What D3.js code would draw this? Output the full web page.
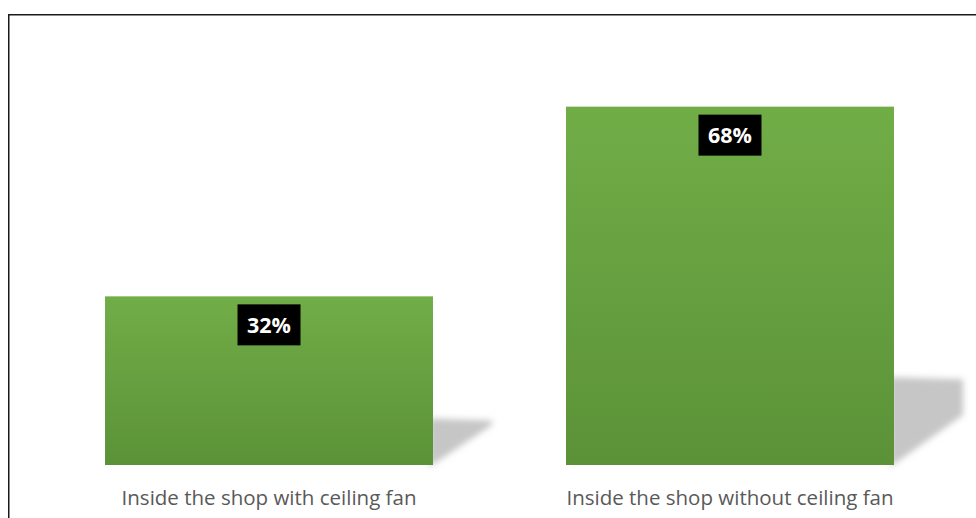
<!DOCTYPE html>
<html>
<head>
<meta charset="utf-8">
<script src="https://cdn.jsdelivr.net/npm/d3@7"></script>
<style>
  html, body { margin: 0; padding: 0; background: #fff; }
  svg { display: block; }
</style>
</head>
<body>
<svg id="chart" width="976" height="518"></svg>
<script>
(function(){
    'use strict';

    // Chart data
    const categories = ['Inside the shop with ceiling fan', 'Inside the shop without ceiling fan'];
    const values = [0.32, 0.68];
    const valueLabels = ['32%', '68%'];

    const baseline = 465;

    const svg = d3.select('#chart');

    const defs = svg.append('defs');
    const grad = defs.append('linearGradient')
        .attr('id', 'barGrad')
        .attr('x1', 0).attr('y1', 0).attr('x2', 0).attr('y2', 1);
    grad.append('stop').attr('offset', '0%').attr('stop-color', '#71ad47');
    grad.append('stop').attr('offset', '100%').attr('stop-color', '#5b9238');

    defs.append('filter').attr('id', 'blur')
        .attr('x', '-20%').attr('y', '-20%').attr('width', '140%').attr('height', '140%')
        .append('feGaussianBlur').attr('stdDeviation', 3);

    // frame
    svg.append('rect')
        .attr('x', 8.75).attr('y', 14.75)
        .attr('width', 1000).attr('height', 600)
        .attr('fill', 'none')
        .attr('stroke', '#1a1a1a')
        .attr('stroke-width', 1.5);

    const x = d3.scaleBand()
        .domain(d3.range(categories.length))
        .range([38.5, 960.5])
        .paddingInner(0.2885)
        .paddingOuter(0.1443);

    const y = d3.scaleLinear()
        .domain([0, 0.8])
        .range([baseline, baseline - 0.8 * 527]);

    // perspective shadows behind the bars
    svg.append('g')
        .attr('filter', 'url(#blur)')
        .selectAll('path')
        .data(values)
        .join('path')
        .attr('fill', '#c6c6c6')
        .attr('d', (d, i) => {
            const x0 = x(i) + x.bandwidth();
            const h = y(0) - y(d);
            const top = baseline - (10 + h * 0.217);
            const len = 50 + h * 0.053;
            const rb = baseline - (31 + h * 0.053);
            return `M${x0 - 4},${top} L${x0 + len},${top + 2} L${x0 + len},${rb} L${x0 - 4},${baseline + 2} Z`;
        });

    // bars
    svg.append('g')
        .selectAll('rect')
        .data(values)
        .join('rect')
        .attr('x', (d, i) => x(i))
        .attr('y', d => y(d))
        .attr('width', x.bandwidth())
        .attr('height', d => y(0) - y(d))
        .attr('fill', 'url(#barGrad)');

    // value labels
    const lab = svg.append('g')
        .selectAll('g')
        .data(values)
        .join('g')
        .attr('transform', (d, i) => `translate(${x(i) + x.bandwidth() / 2},${y(d) + 28.5})`);
    lab.append('rect')
        .attr('x', -31.5).attr('y', -20.5)
        .attr('width', 63).attr('height', 41)
        .attr('fill', '#000');
    lab.append('text')
        .attr('text-anchor', 'middle')
        .attr('dy', '0.36em')
        .attr('fill', '#fff')
        .style('font-family', '"Open Sans", sans-serif')
        .style('font-weight', 'bold')
        .style('font-size', '21.5px')
        .text((d, i) => valueLabels[i]);

    // category axis
    const xAxis = g => g
        .attr('transform', `translate(0,${baseline})`)
        .call(d3.axisBottom(x).tickSize(0).tickPadding(25).tickFormat(i => categories[i]))
        .call(g => g.select('.domain').remove())
        .call(g => g.selectAll('text')
            .attr('fill', '#595959')
            .style('font-family', '"Open Sans", sans-serif')
            .style('font-size', '20.5px'));
    svg.append('g').call(xAxis);
})();
</script>
</body>
</html>
